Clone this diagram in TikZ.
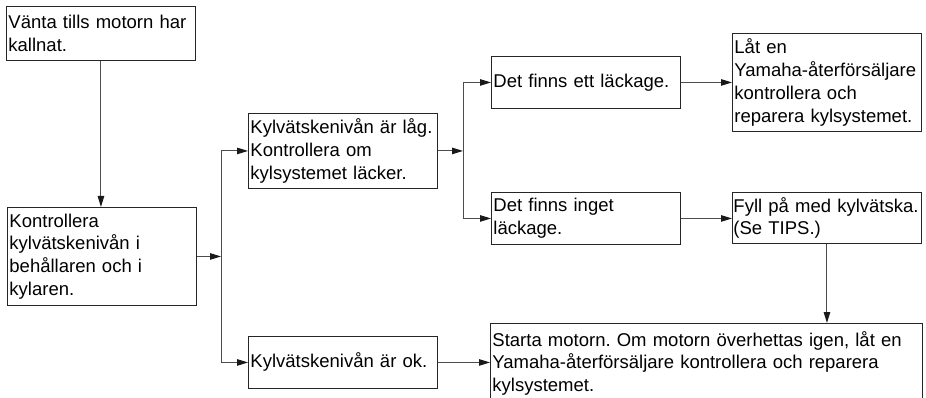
\documentclass[tikz,border=0pt]{standalone}
\usepackage{fontspec}
\setmainfont{Liberation Sans}
\usetikzlibrary{arrows.meta}
\frenchspacing
\hyphenpenalty=10000

\tikzset{
  box/.style={draw=black!85, line width=0.9pt, anchor=north west, align=left,
    inner xsep=2pt, inner ysep=0pt, text width=185pt,
    font=\fontsize{18.5}{22.8}\selectfont},
  arr/.style={draw=black!70, line width=1pt, -{Triangle[length=11pt,width=6.5pt,color=black!90]}}
}

\begin{document}
\begin{tikzpicture}[x=1pt, y=-1pt]
  \useasboundingbox (0,0) rectangle (926,398);

  \node[box, minimum height=54pt] (wait) at (6,6) {Vänta tills motorn har\\kallnat.};
  \node[box, minimum height=98pt] (check) at (7,207)
    {Kontrollera\\kylvätskenivån i\\behållaren och i\\kylaren.};
  \node[box, minimum height=75pt] (low) at (248,113)
    {Kylvätskenivån är låg.\\Kontrollera om\\kylsystemet läcker.};
  \node[box, minimum height=52pt] (ok) at (248,336) {Kylvätskenivån är ok.};
  \node[box, minimum height=52pt] (leak) at (491,56) {Det finns ett läckage.};
  \node[box, minimum height=52pt] (noleak) at (491,192) {Det finns inget\\läckage.};
  \node[box, minimum height=98pt] (dealer) at (732,33)
    {Låt en\\\mbox{Yamaha-återförsäljare}\\kontrollera och\\reparera kylsystemet.};
  \node[box, inner xsep=1pt, text width=187pt, minimum height=51pt] (fill) at (732,192)
    {\mbox{Fyll på med kylvätska.}\\(Se TIPS.)};
  \node[box, text width=428pt, minimum height=80pt] (start) at (490,323)
    {Starta motorn. Om motorn överhettas igen, låt en\\Yamaha-återförsäljare kontrollera och reparera\\kylsystemet.};

  % branch points
  \coordinate (j1) at (221,256);
  \coordinate (j2) at (463,150.5);

  \draw[arr] (wait.south) -- (wait.south |- check.north);
  \draw[arr] (check.east) -- (check.east -| j1);
  \draw[arr] (j1 |- ok.west) |- (low.west);
  \draw[arr] (j1 |- low.west) |- (ok.west);
  \draw[arr] (low.east) -- (low.east -| j2);
  \draw[arr] (j2 |- noleak.west) |- (leak.west);
  \draw[arr] (j2 |- leak.west) |- (noleak.west);
  \draw[arr] (leak.east) -- (leak.east -| dealer.west);
  \draw[arr] (noleak.east) -- (noleak.east -| fill.west);
  \draw[arr] (fill.south) -- (fill.south |- start.north);
  \draw[arr] (ok.east) -- (ok.east -| start.west);
\end{tikzpicture}
\end{document}
